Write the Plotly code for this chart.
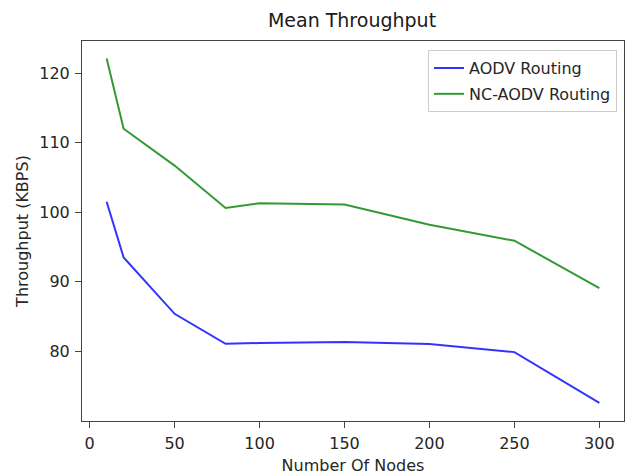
import plotly.graph_objects as go

nodes = [10, 20, 50, 80, 100, 150, 200, 250, 300]
aodv = [101.5, 93.5, 85.4, 81.1, 81.2, 81.35, 81.06, 79.9, 72.6]
nc_aodv = [122.1, 112.0, 106.7, 100.6, 101.3, 101.1, 98.2, 95.9, 89.1]
y_ticks = [80, 90, 100, 110, 120]
x_ticks = [0, 50, 100, 150, 200, 250, 300]

FONT = "DejaVu Sans"
TXT = "#262626"

fig = go.Figure()
fig.add_trace(go.Scatter(x=nodes, y=aodv, mode="lines", name="AODV Routing",
                         line=dict(color="rgba(0,0,255,0.8)", width=2), legendgroup="a"))
fig.add_trace(go.Scatter(x=nodes, y=nc_aodv, mode="lines", name="NC-AODV Routing",
                         line=dict(color="rgba(0,128,0,0.8)", width=2), legendgroup="b"))

axis_common = dict(showgrid=False, zeroline=False, showline=True, linecolor="#444",
                   linewidth=1, mirror=True, ticks="outside", ticklen=6, tickwidth=1,
                   tickcolor="#444", automargin=False, ticklabelstandoff=2,
                   tickfont=dict(family=FONT, size=16, color=TXT))

fig.update_layout(
    width=625, height=475,
    margin=dict(l=82, r=1, t=41, b=54),
    paper_bgcolor="white", plot_bgcolor="white",
    title=dict(text="Mean Throughput", x=352 / 625, xanchor="center",
               y=1 - 20 / 475, yanchor="middle",
               font=dict(family=FONT, size=19, color="#1a1a1a")),
    font=dict(family=FONT, color=TXT),
    legend=dict(x=(617 - 82) / 542, xanchor="right", y=0.976, yanchor="top",
                bordercolor="#cccccc", borderwidth=1, bgcolor="white",
                font=dict(family=FONT, size=16, color=TXT),
                tracegroupgap=2),
    showlegend=True,
)
fig.update_xaxes(range=[-4.5, 314.5], tickvals=x_ticks,
                 title=dict(text="Number Of Nodes", font=dict(family=FONT, size=16, color=TXT), standoff=8),
                 **axis_common)
fig.update_yaxes(range=[70.0, 124.6], tickvals=y_ticks,
                 title=dict(text="Throughput (KBPS)", font=dict(family=FONT, size=16, color=TXT), standoff=6),
                 **axis_common)

fig.write_html("out.html", config={"displayModeBar": False},
               post_script="document.body.style.margin='0';")
